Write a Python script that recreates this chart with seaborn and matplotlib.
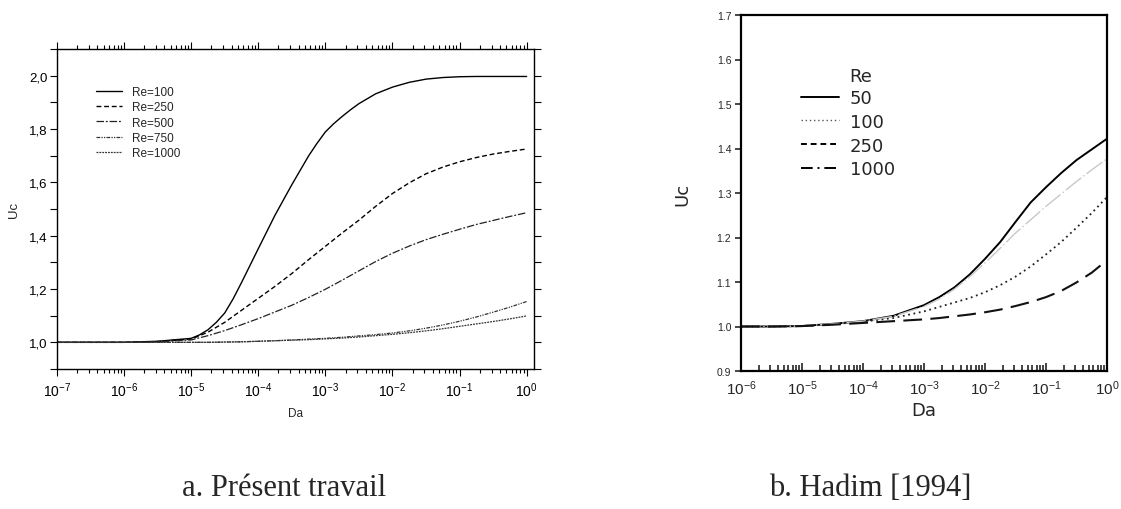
import numpy as np
import pandas as pd
import matplotlib
matplotlib.use("Agg")
import matplotlib.pyplot as plt
import seaborn as sns
from matplotlib.ticker import (LogLocator, NullFormatter, MultipleLocator, FuncFormatter,
                               FixedLocator, LogFormatterSciNotation)
from matplotlib.lines import Line2D

# ---------------- data: panel a (present work) ----------------
da_exp_a = [-7, -6, -5.5, -5, -4.75, -4.5, -4.25, -4, -3.75, -3.5, -3.25, -3,
            -2.75, -2.5, -2.25, -2, -1.75, -1.5, -1.25, -1, -0.75, -0.5, -0.25, 0]
da_exp_a100 = [-7, -6, -5.5, -5, -4.875, -4.75, -4.625, -4.5, -4.375, -4.25, -4, -3.75, -3.5,
               -3.25, -3.125, -3, -2.875, -2.75, -2.625, -2.5, -2.25, -2, -1.75, -1.5, -1.25,
               -1, -0.75, -0.5, -0.25, 0]
uc_a_re100 = [1.000, 1.000, 1.004, 1.015, 1.028, 1.047, 1.075, 1.110, 1.163, 1.224, 1.351, 1.477,
              1.591, 1.699, 1.746, 1.789, 1.820, 1.847, 1.872, 1.895, 1.932, 1.957, 1.975, 1.987,
              1.993, 1.996, 1.997, 1.997, 1.997, 1.997]
uc_a_re250 = [1.000, 1.000, 1.003, 1.012, 1.038, 1.075, 1.120, 1.165, 1.210, 1.258, 1.310, 1.360,
              1.410, 1.458, 1.510, 1.558, 1.598, 1.632, 1.657, 1.677, 1.693, 1.706, 1.716, 1.725]
uc_a_re500 = [1.000, 1.000, 1.002, 1.009, 1.025, 1.044, 1.066, 1.089, 1.114, 1.139, 1.168, 1.199,
              1.233, 1.268, 1.303, 1.334, 1.361, 1.385, 1.405, 1.424, 1.442, 1.457, 1.472, 1.486]
uc_a_re750 = [1.000, 1.000, 1.000, 1.000, 1.000, 1.001, 1.002, 1.004, 1.006, 1.009, 1.012, 1.015,
              1.019, 1.024, 1.029, 1.035, 1.043, 1.053, 1.065, 1.079, 1.095, 1.113, 1.132, 1.153]
uc_a_re1000 = [1.000, 1.000, 1.000, 1.000, 1.000, 1.001, 1.002, 1.004, 1.006, 1.008, 1.010, 1.013,
               1.016, 1.020, 1.025, 1.030, 1.036, 1.043, 1.051, 1.060, 1.069, 1.078, 1.088, 1.099]
labels_a = ["Re=100", "Re=250", "Re=500", "Re=750", "Re=1000"]
xticks_a = [1e-7, 1e-6, 1e-5, 1e-4, 1e-3, 1e-2, 1e-1, 1e0]

# ---------------- data: panel b (Hadim 1994) ----------------
da_exp_b = [-6, -5.5, -5, -4.5, -4, -3.5, -3, -2.75, -2.5, -2.25, -2, -1.75,
            -1.5, -1.25, -1, -0.75, -0.5, -0.25, 0]
uc_b_re50 = [1.000, 1.000, 1.001, 1.006, 1.012, 1.024, 1.048, 1.066, 1.088, 1.117, 1.152, 1.190,
             1.235, 1.279, 1.313, 1.345, 1.374, 1.398, 1.422]
uc_b_re100 = [1.000, 1.000, 1.001, 1.005, 1.011, 1.019, 1.034, 1.044, 1.054, 1.064, 1.077, 1.093,
              1.112, 1.135, 1.162, 1.190, 1.222, 1.255, 1.291]
uc_b_re250 = [1.000, 1.000, 1.001, 1.006, 1.012, 1.023, 1.045, 1.062, 1.084, 1.112, 1.143, 1.176,
              1.210, 1.240, 1.270, 1.298, 1.326, 1.352, 1.377]
uc_b_re1000 = [1.000, 1.000, 1.001, 1.004, 1.008, 1.012, 1.016, 1.019, 1.023, 1.027, 1.032, 1.038,
               1.046, 1.055, 1.066, 1.080, 1.099, 1.121, 1.149]
labels_b = ["50", "100", "250", "1000"]
legend_title_b = "Re"
xticks_b = [1e-6, 1e-5, 1e-4, 1e-3, 1e-2, 1e-1, 1e0]

captions = ["a. Présent travail", "b. Hadim [1994]"]

# ---------------- style ----------------
sns.set_style("ticks")
plt.rcParams["font.family"] = ["Liberation Sans", "DejaVu Sans"]
plt.rcParams["mathtext.fontset"] = "custom"
plt.rcParams["mathtext.rm"] = "Liberation Sans"
plt.rcParams["mathtext.it"] = "Liberation Sans:italic"
plt.rcParams["mathtext.bf"] = "Liberation Sans:bold"

W, H = 1121, 510
fig = plt.figure(figsize=(W / 100, H / 100), dpi=100)
fig.patch.set_facecolor("white")


def box(l, t, r, b):
    return [l / W, 1 - b / H, (r - l) / W, (b - t) / H]


# ================= panel a =================
ax1 = fig.add_axes(box(57, 50, 534, 370))
styles_a = [
    dict(color="black", linestyle="-", linewidth=1.0),
    dict(color="black", linestyle=(0, (3.5, 2)), linewidth=1.0),
    dict(color="#222222", linestyle=(0, (6, 1.5, 1.5, 1.5)), linewidth=0.9),
    dict(color="#333333", linestyle=(0, (3, 1, 1, 1, 1, 1)), linewidth=0.9),
    dict(color="#333333", linestyle=(0, (1.5, 0.8)), linewidth=0.9),
]
series_a = [uc_a_re100, uc_a_re250, uc_a_re500, uc_a_re750, uc_a_re1000]
xs_a = [da_exp_a100, da_exp_a, da_exp_a, da_exp_a, da_exp_a]
for lab, ex, ys, st in zip(labels_a, xs_a, series_a, styles_a):
    df = pd.DataFrame({"Da": [10.0 ** e for e in ex], "Uc": ys})
    sns.lineplot(data=df, x="Da", y="Uc", ax=ax1, label=lab, **st)

ax1.set_xscale("log")
ax1.set_xlim(1e-7, 10 ** 0.11)
ax1.set_ylim(0.9, 2.1)
ax1.xaxis.set_major_locator(FixedLocator(xticks_a))
ax1.xaxis.set_major_formatter(LogFormatterSciNotation())
ax1.xaxis.set_minor_locator(LogLocator(base=10, subs=np.arange(2, 10), numticks=20))
ax1.xaxis.set_minor_formatter(NullFormatter())
ax1.yaxis.set_major_locator(MultipleLocator(0.1))


def fmt_a(v, pos):
    k = int(round(v * 10))
    if k % 2 == 0 and 10 <= k <= 20:
        return f"{v:.1f}".replace(".", ",")
    return ""


ax1.yaxis.set_major_formatter(FuncFormatter(fmt_a))
ax1.tick_params(which="both", direction="out", top=True, right=True,
                labeltop=False, labelright=False, colors="black", width=0.8)
ax1.tick_params(which="major", length=5, labelsize=9.5, pad=2)
ax1.tick_params(axis="x", which="major", labelsize=10, pad=3)
ax1.tick_params(which="minor", length=3)
for s in ax1.spines.values():
    s.set_visible(True)
    s.set_linewidth(1.0)
    s.set_color("black")
ax1.set_xlabel("Da", fontsize=8.5, labelpad=6)
ax1.set_ylabel("Uc", fontsize=9.5, labelpad=6)

leg1 = ax1.legend(loc="upper left", bbox_to_anchor=(96 / W, 1 - 87 / H),
                  bbox_transform=fig.transFigure, frameon=False, fontsize=8.5,
                  handlelength=2.2, handletextpad=0.85, labelspacing=0.28, borderpad=0,
                  borderaxespad=0)

# ================= panel b =================
ax2 = fig.add_axes(box(741, 16, 1107, 372))
styles_b = [
    dict(color="black", linestyle="-", linewidth=1.4),
    dict(color="#222222", linestyle=(0, (1, 2)), linewidth=1.3),
    dict(color="#c8c8c8", linestyle=(0, (14, 2, 1, 2)), linewidth=1.0),
    dict(color="#111111", linestyle=(0, (9, 4)), linewidth=1.5),
]
series_b = [uc_b_re50, uc_b_re100, uc_b_re250, uc_b_re1000]
da_b = [10.0 ** e for e in da_exp_b]
for lab, ys, st in zip(labels_b, series_b, styles_b):
    df = pd.DataFrame({"Da": da_b, "Uc": ys})
    sns.lineplot(data=df, x="Da", y="Uc", ax=ax2, legend=False, **st)

ax2.set_xscale("log")
ax2.set_xlim(1e-6, 1.0)
ax2.set_ylim(0.9, 1.7)
ax2.xaxis.set_major_locator(FixedLocator(xticks_b))
ax2.xaxis.set_major_formatter(LogFormatterSciNotation())
ax2.xaxis.set_minor_locator(LogLocator(base=10, subs=np.arange(2, 10), numticks=20))
ax2.xaxis.set_minor_formatter(NullFormatter())
ax2.yaxis.set_major_locator(MultipleLocator(0.1))
ax2.yaxis.set_major_formatter(FuncFormatter(lambda v, p: f"{v:.1f}"))
ax2.tick_params(axis="x", which="both", direction="in", top=False, bottom=True, width=1.2)
ax2.tick_params(axis="x", which="major", length=6, labelsize=11, pad=5)
ax2.tick_params(axis="x", which="minor", length=4)
ax2.tick_params(axis="y", which="major", direction="out", length=4, width=1.2,
                labelsize=7.5, pad=3, right=False)
for s in ax2.spines.values():
    s.set_visible(True)
    s.set_linewidth(1.6)
    s.set_color("black")
ax2.set_xlabel("Da", fontsize=13, family="DejaVu Sans", labelpad=3)
ax2.set_ylabel("Uc", fontsize=13, family="DejaVu Sans", labelpad=18)

handles_b = [
    Line2D([], [], color="black", linestyle="-", linewidth=1.4),
    Line2D([], [], color="#555555", linestyle=(0, (1, 2)), linewidth=1.0),
    Line2D([], [], color="black", linestyle=(0, (3, 2)), linewidth=1.4),
    Line2D([], [], color="black", linestyle=(0, (6, 2.5, 1, 2.5)), linewidth=1.4),
]
leg2 = ax2.legend(handles_b, labels_b, loc="upper left",
                  bbox_to_anchor=(801 / W, 1 - 90 / H), bbox_transform=fig.transFigure,
                  frameon=False, prop={"family": "DejaVu Sans", "size": 13},
                  handlelength=2.1, handletextpad=0.6, labelspacing=0.32, borderpad=0,
                  borderaxespad=0)
fig.text(849 / W, 1 - 77 / H, legend_title_b, ha="left", va="center",
         fontsize=13, family="DejaVu Sans")

# ================= captions =================
fig.text(284 / W, 1 - 489 / H, captions[0], ha="center", va="center",
         fontsize=22, family="Liberation Serif")
fig.text(870 / W, 1 - 489 / H, captions[1], ha="center", va="center",
         fontsize=22, family="Liberation Serif")

fig.savefig("out.png", dpi=100, facecolor="white")
